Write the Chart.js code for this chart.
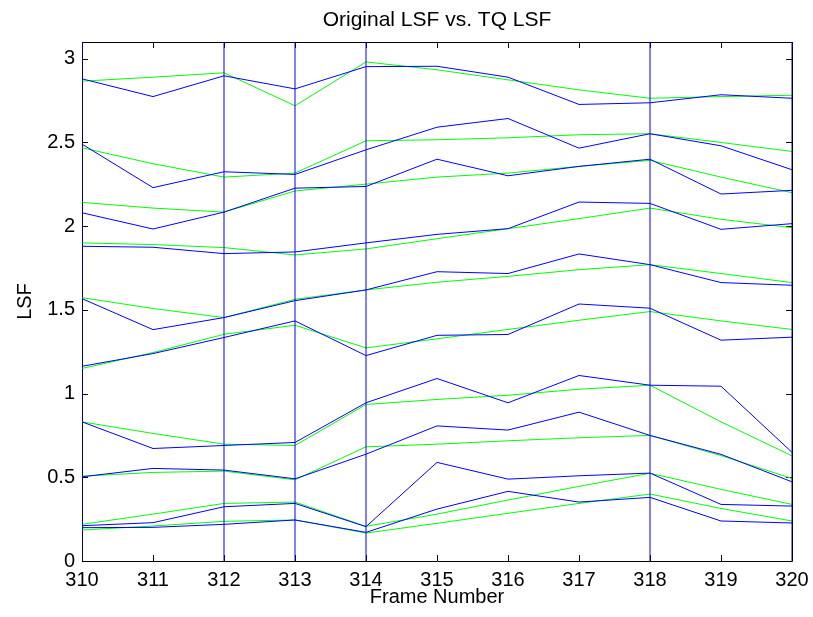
<!DOCTYPE html>
<html>
<head>
<meta charset="utf-8">
<script src="https://cdn.jsdelivr.net/npm/chart.js@4/dist/chart.umd.min.js"></script>
<style>
  html, body { margin: 0; padding: 0; background: #fff; }
  #wrap { width: 813px; height: 617px; }
</style>
</head>
<body>
<div id="wrap"><canvas id="lsf-chart" width="813" height="617"></canvas></div>
<script>
// ── Data ───────────────────────────────────────────────────────────────────
const FRAMES = [310, 311, 312, 313, 314, 315, 316, 317, 318, 319, 320];

// Original LSF (blue), one array per LSF index, low → high
const ORIG_1  = [0.199, 0.201, 0.219, 0.245, 0.171, 0.310, 0.416, 0.352, 0.380, 0.239, 0.227];
const ORIG_2  = [0.211, 0.229, 0.324, 0.344, 0.205, 0.589, 0.489, 0.509, 0.525, 0.338, 0.328];
const ORIG_3  = [0.503, 0.553, 0.543, 0.491, 0.638, 0.807, 0.782, 0.889, 0.750, 0.637, 0.473];
const ORIG_4  = [0.831, 0.672, 0.690, 0.708, 0.945, 1.090, 0.945, 1.108, 1.050, 1.044, 0.649];
const ORIG_5  = [1.163, 1.239, 1.335, 1.434, 1.227, 1.348, 1.353, 1.535, 1.510, 1.319, 1.337];
const ORIG_6  = [1.567, 1.382, 1.454, 1.555, 1.619, 1.728, 1.717, 1.834, 1.770, 1.663, 1.647];
const ORIG_7  = [1.880, 1.874, 1.836, 1.846, 1.900, 1.951, 1.985, 2.144, 2.136, 1.981, 2.015];
const ORIG_8  = [2.080, 1.983, 2.084, 2.227, 2.237, 2.400, 2.301, 2.357, 2.400, 2.192, 2.214];
const ORIG_9  = [2.490, 2.230, 2.325, 2.309, 2.456, 2.591, 2.643, 2.466, 2.552, 2.480, 2.337];
const ORIG_10 = [2.880, 2.774, 2.898, 2.820, 2.953, 2.955, 2.890, 2.727, 2.737, 2.785, 2.764];

// TQ LSF (green)
const TQ_1  = [0.185, 0.209, 0.237, 0.245, 0.167, 0.225, 0.285, 0.344, 0.400, 0.314, 0.239];
const TQ_2  = [0.219, 0.280, 0.344, 0.352, 0.207, 0.280, 0.364, 0.446, 0.524, 0.428, 0.338];
const TQ_3  = [0.507, 0.529, 0.537, 0.485, 0.682, 0.698, 0.718, 0.736, 0.750, 0.630, 0.493];
const TQ_4  = [0.831, 0.762, 0.698, 0.690, 0.935, 0.965, 0.990, 1.026, 1.050, 0.831, 0.628];
const TQ_5  = [1.150, 1.245, 1.354, 1.408, 1.273, 1.327, 1.383, 1.438, 1.490, 1.434, 1.383];
const TQ_6  = [1.573, 1.508, 1.454, 1.563, 1.619, 1.665, 1.700, 1.740, 1.770, 1.717, 1.663];
const TQ_7  = [1.900, 1.890, 1.872, 1.828, 1.864, 1.925, 1.985, 2.045, 2.108, 2.041, 1.991];
const TQ_8  = [2.142, 2.108, 2.084, 2.210, 2.251, 2.293, 2.317, 2.357, 2.393, 2.293, 2.200];
const TQ_9  = [2.468, 2.373, 2.293, 2.317, 2.510, 2.516, 2.528, 2.546, 2.552, 2.500, 2.446];
const TQ_10 = [2.866, 2.890, 2.916, 2.719, 2.981, 2.934, 2.874, 2.814, 2.764, 2.774, 2.782];

// Anchor frames marked with vertical blue lines
const ANCHOR_FRAMES = [310, 312, 313, 314, 318, 320];

const X_TICKS = [310, 311, 312, 313, 314, 315, 316, 317, 318, 319, 320];
const Y_TICKS = [0, 0.5, 1, 1.5, 2, 2.5, 3];
const Y_MIN = 0;
const Y_MAX = 3.1;

const ORIG = [ORIG_1, ORIG_2, ORIG_3, ORIG_4, ORIG_5, ORIG_6, ORIG_7, ORIG_8, ORIG_9, ORIG_10];
const TQ   = [TQ_1, TQ_2, TQ_3, TQ_4, TQ_5, TQ_6, TQ_7, TQ_8, TQ_9, TQ_10];

// ── Styling ────────────────────────────────────────────────────────────────
const BLUE  = '#0000FF';
const GREEN = '#00FF00';
const FONT  = "'Liberation Sans', Arial, Helvetica, sans-serif";
const TICK_LEN = 6;

const toPoints = vals => vals.map((v, i) => ({ x: FRAMES[i], y: v }));

const lineDs = (vals, color) => ({
  data: toPoints(vals),
  borderColor: color,
  backgroundColor: 'transparent',
  borderWidth: 1,
  pointRadius: 0,
  tension: 0,
});

const datasets = [
  ...ANCHOR_FRAMES.map(f => ({
    data: [{ x: f, y: Y_MIN }, { x: f, y: Y_MAX }],
    borderColor: BLUE, borderWidth: 1, pointRadius: 0,
  })),
  ...ORIG.map(s => lineDs(s, BLUE)),
  ...TQ.map(s => lineDs(s, GREEN)),
];

// ── MATLAB-style box with inward ticks ─────────────────────────────────────
const boxPlugin = {
  id: 'matlabBox',
  beforeDatasetsDraw(chart) {
    const { ctx, chartArea: a, scales: { x, y } } = chart;
    ctx.save();
    ctx.strokeStyle = '#000';
    ctx.lineWidth = 1;
    ctx.beginPath();
    ctx.rect(Math.round(a.left) + 0.5, Math.round(a.top) + 0.5,
             Math.round(a.right - a.left), Math.round(a.bottom - a.top));
    X_TICKS.forEach(t => {
      const px = Math.round(x.getPixelForValue(t)) + 0.5;
      ctx.moveTo(px, a.bottom); ctx.lineTo(px, a.bottom - TICK_LEN);
      ctx.moveTo(px, a.top);    ctx.lineTo(px, a.top + TICK_LEN);
    });
    Y_TICKS.forEach(t => {
      const py = Math.round(y.getPixelForValue(t)) + 0.5;
      ctx.moveTo(a.left, py);  ctx.lineTo(a.left + TICK_LEN, py);
      ctx.moveTo(a.right, py); ctx.lineTo(a.right - TICK_LEN, py);
    });
    ctx.stroke();
    ctx.restore();
  },
};

// keep the plot box fixed: no extra room reserved for overhanging labels
const fixBox = size => s => {
  Object.assign(s, size);
  s.paddingLeft = s.paddingRight = s.paddingTop = s.paddingBottom = 0;
};

// ── Chart ──────────────────────────────────────────────────────────────────
Chart.defaults.font.family = FONT;
Chart.defaults.color = '#000';

new Chart(document.getElementById('lsf-chart').getContext('2d'), {
  type: 'line',
  data: { datasets },
  plugins: [boxPlugin],
  options: {
    responsive: false,
    animation: false,
    events: [],
    layout: { padding: { left: 0, right: 21, top: 0, bottom: 0 } },
    plugins: {
      legend: { display: false },
      tooltip: { enabled: false },
      title: {
        display: true,
        fullSize: false,
        text: 'Original LSF vs. TQ LSF',
        color: '#000',
        font: { size: 21, weight: 'normal' },
        padding: { top: 8, bottom: 8.8 },
      },
    },
    scales: {
      x: {
        type: 'linear',
        min: FRAMES[0],
        max: FRAMES[FRAMES.length - 1],
        afterFit: fixBox({ height: 56 }),
        afterBuildTicks: s => { s.ticks = X_TICKS.map(v => ({ value: v })); },
        grid: { display: false, drawTicks: false },
        border: { display: false },
        ticks: { font: { size: 20 }, padding: 7, maxRotation: 0, callback: v => String(v) },
        title: { display: true, text: 'Frame Number', font: { size: 20 }, padding: { top: 0, bottom: 8 } },
      },
      y: {
        type: 'linear',
        min: Y_MIN,
        max: Y_MAX,
        afterFit: fixBox({ width: 82 }),
        afterBuildTicks: s => { s.ticks = Y_TICKS.map(v => ({ value: v })); },
        grid: { display: false, drawTicks: false },
        border: { display: false },
        ticks: { font: { size: 20 }, padding: 7, callback: v => String(v) },
        title: { display: true, text: 'LSF', font: { size: 20 }, padding: { top: 13, bottom: 0 } },
      },
    },
  },
});
</script>
</body>
</html>
